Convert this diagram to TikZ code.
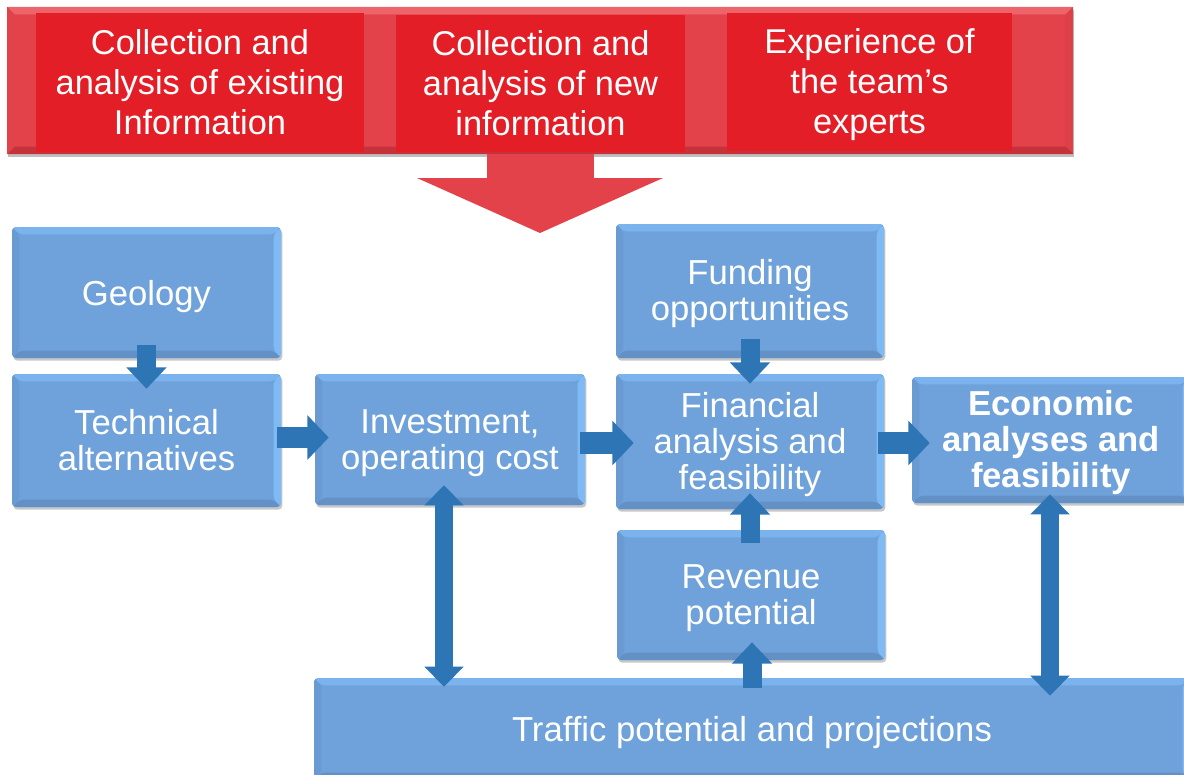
\documentclass[tikz,border=0pt]{standalone}
\usepackage{fontspec}
\setmainfont{Liberation Sans}
\usetikzlibrary{arrows.meta,calc,shadows}
\definecolor{boxblue}{RGB}{111,162,218}
\definecolor{bevtop}{RGB}{123,179,238}
\definecolor{bevright}{RGB}{128,186,245}
\definecolor{bevbot}{RGB}{99,145,198}
\definecolor{bevleft}{RGB}{105,155,210}
\definecolor{arrblue}{RGB}{46,117,182}
\definecolor{redbar}{RGB}{228,66,74}
\definecolor{redpanel}{RGB}{227,30,38}
\definecolor{redtop}{RGB}{237,100,106}
\definecolor{redright}{RGB}{222,64,72}
\definecolor{redbot}{RGB}{198,50,58}
\definecolor{redleft}{RGB}{226,66,74}
\newcommand\bevelpp[5]{%
  \path (path picture bounding box.north west) coordinate (pNW)
        (path picture bounding box.north east) coordinate (pNE)
        (path picture bounding box.south east) coordinate (pSE)
        (path picture bounding box.south west) coordinate (pSW);
  \fill[#2] (pNW) -- (pNE) -- ([shift={(-#1,-#1)}]pNE) -- ([shift={(#1,-#1)}]pNW) -- cycle;
  \fill[#3] (pNE) -- (pSE) -- ([shift={(-#1,#1)}]pSE) -- ([shift={(-#1,-#1)}]pNE) -- cycle;
  \fill[#4] (pSE) -- (pSW) -- ([shift={(#1,#1)}]pSW) -- ([shift={(-#1,#1)}]pSE) -- cycle;
  \fill[#5] (pSW) -- (pNW) -- ([shift={(#1,-#1)}]pNW) -- ([shift={(#1,#1)}]pSW) -- cycle;
}
\newcommand\boxstrut{\rule[-6pt]{0pt}{31pt}}
\newcommand\fl{\rule{0pt}{23.5pt}}
\begin{document}
\begin{tikzpicture}[x=0.75pt,y=-0.75pt,
  sz/.style 2 args={minimum width=#1*0.75pt, minimum height=#2*0.75pt},
  bluebox/.style={rectangle, rounded corners=3pt, fill=boxblue, inner sep=0pt,
    text=white, align=center, font=\fontsize{26}{27}\selectfont,
    execute at begin node=\boxstrut, execute at end node=\boxstrut,
    drop shadow={shadow xshift=1pt, shadow yshift=-2pt, opacity=0.22, fill=black},
    path picture={\bevelpp{5.5pt}{bevtop}{bevright}{bevbot}{bevleft}}},
  redbanner/.style={rectangle, fill=redbar, inner sep=0pt,
    drop shadow={shadow xshift=1pt, shadow yshift=-2pt, opacity=0.25, fill=black},
    path picture={\bevelpp{5.5pt}{redtop}{redright}{redbot}{redleft}}},
  redbox/.style={rectangle, fill=redpanel, inner sep=0pt, text=white, align=center,
    font=\fontsize{25.8}{30}\selectfont,
    execute at begin node=\boxstrut, execute at end node=\boxstrut},
  varr/.style={draw=arrblue, line width=14.25pt,
    -{Triangle[width=29.25pt,length=16pt]}},
  harr/.style={draw=arrblue, line width=16.25pt,
    -{Triangle[width=32.5pt,length=16pt]}},
  darr/.style={draw=arrblue, line width=13.5pt,
    {Triangle[width=28.5pt,length=15pt]}-{Triangle[width=28.5pt,length=15pt]}},
  redarr/.style={draw=redbar, line width=80.25pt,
    -{Triangle[width=183pt,length=41.25pt]}}
]
\useasboundingbox (0,0) rectangle (1184,774);
\clip (0,0) rectangle (1184,774);

% red banner
\node[redbanner, sz={1066}{147}] (banner) at (540,80.5) {};
\node[redbox, sz={328}{139}] (p1) at (200,82.5) {\fl Collection and\\analysis of existing\\Information};
\node[redbox, sz={289}{137}] (p2) at (540.5,83.5) {\fl Collection and\\analysis of new\\information};
\node[redbox, sz={285}{138}] (p3) at (869.5,82) {\fl Experience of\\the team’s\\experts};
\coordinate (redtip) at (540,233);
\draw[redarr] (banner.south) -- (redtip);

% blue boxes
\node[bluebox, sz={269}{131}] (geo) at (146.5,292.5) {Geology};
\node[bluebox, sz={269}{133}] (tech) at (146.5,440.5) {\fl Technical\\alternatives};
\node[bluebox, sz={270}{131}] (inv) at (450,439.5) {\fl Investment,\\operating cost};
\node[bluebox, sz={268}{134}] (fund) at (750,291) {\fl Funding\\opportunities};
\node[bluebox, sz={268}{135}] (fin) at (750,441.5) {\fl Financial\\analysis and\\feasibility};
\node[bluebox, sz={278}{126}, font=\fontsize{26}{27}\selectfont\bfseries] (eco) at (1051,440) {\fl Economic\\analyses and\\feasibility};
\node[bluebox, sz={268}{130}] (rev) at (751,595) {\fl Revenue\\potential};
\node[bluebox, sz={876}{102}] (traf) at (752,729) {Traffic potential and projections};

% blue arrows
\draw[varr] ($(geo.south)+(0,-13)$) -- ($(tech.north)+(0,15)$);
\draw[harr] ($(tech.east)+(-4,-3)$) -- ($(inv.west)+(14,-2)$);
\draw[harr] ($(inv.east)+(-5,3.5)$) -- ($(fin.west)+(18,1.5)$);
\draw[harr] ($(fin.east)+(-6,1.5)$) -- ($(eco.west)+(18,3)$);
\draw[varr] ($(fund.south)+(0,-19)$) -- ($(fin.north)+(0,10)$);
\draw[varr] ($(rev.north)+(-1,13)$) -- ($(fin.south)+(0,-16)$);
\draw[varr] ($(traf.north)+(0,10)$) -- ($(rev.south)+(1,-18)$);
\draw[darr] ($(inv.south)+(-6,-20)$) -- ($(inv.south |- traf.north)+(-6,9)$);
\draw[darr] ($(eco.south)+(-1,-9)$) -- ($(eco.south |- traf.north)+(-1,18)$);
\end{tikzpicture}
\end{document}
